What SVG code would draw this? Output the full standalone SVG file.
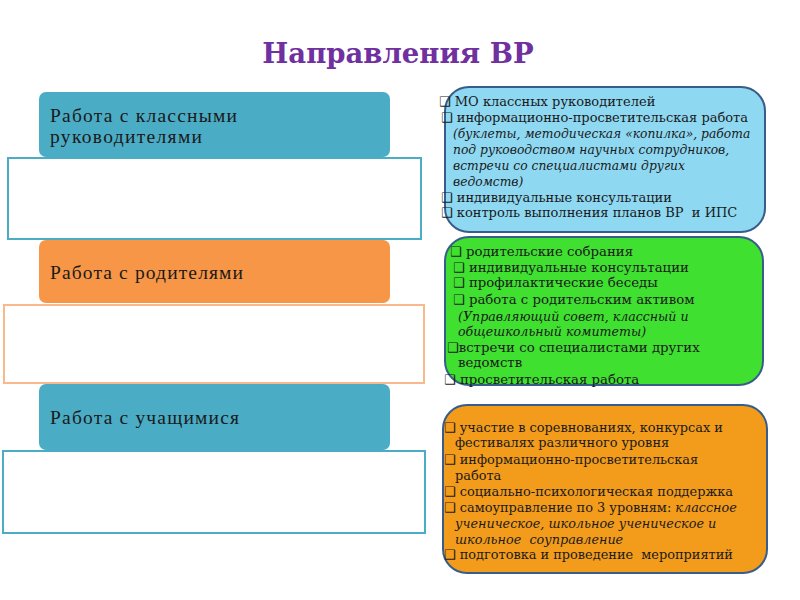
<svg xmlns="http://www.w3.org/2000/svg" width="800" height="600" viewBox="0 0 800 600">
<style>
.title{font-family:"DejaVu Serif","Liberation Serif",serif;font-weight:bold;font-size:27.5px;fill:#7030A0;text-anchor:middle}
.head{font-family:"Liberation Serif","Times New Roman",serif;font-size:19.5px;fill:#1a1a1a}
.hdr-teal{fill:#4BACC6}
.hdr-orange{fill:#F79646}
.frame-teal{fill:#fff;stroke:#4BACC6;stroke-width:2}
.frame-orange{fill:#fff;stroke:#F9B98A;stroke-width:2}
.panel{stroke:#385D8A;stroke-width:2}
.t{font-family:"DejaVu Serif","Liberation Serif",serif;font-size:13px;fill:#1a1a1a}
.g{font-size:13.3px}
.o{font-size:12.9px}
.i{font-style:italic;font-size:12.3px}
.gi{font-style:italic;font-size:12.6px}
.oi{font-style:italic;font-size:12.8px}
.b{font-family:"DejaVu Sans",sans-serif;font-size:13px;font-style:normal;fill:#1a1a1a}
</style>
<rect width="800" height="600" fill="#fff"/>
<text class="title" x="398" y="63">Направления ВР</text>

<g id="node-teachers">
  <rect class="frame-teal" x="8" y="158" width="413" height="81"/>
  <rect class="hdr-teal" x="39" y="92" width="351" height="65" rx="7"/>
  <text class="head" x="50" y="122" textLength="187" lengthAdjust="spacing">Работа с классными</text>
  <text class="head" x="50" y="143" textLength="152" lengthAdjust="spacing">руководителями</text>
</g>

<g id="node-parents">
  <rect class="frame-orange" x="4" y="305" width="420" height="78"/>
  <rect class="hdr-orange" x="39" y="240" width="351" height="63" rx="7"/>
  <text class="head" x="50" y="279" textLength="193" lengthAdjust="spacing">Работа с родителями</text>
</g>

<g id="node-students">
  <rect class="frame-teal" x="3" y="451" width="422" height="82"/>
  <rect class="hdr-teal" x="39" y="384" width="351" height="66" rx="7"/>
  <text class="head" x="50" y="424" textLength="189" lengthAdjust="spacing">Работа с учащимися</text>
</g>

<g id="panel-teachers">
  <rect class="panel" x="445" y="87" width="320" height="145" rx="24" fill="#8FD8F2"/>
  <text class="t" x="439" y="106"><tspan class="b">❑</tspan> МО классных руководителей</text>
  <text class="t" x="441" y="122"><tspan class="b">❑</tspan> информационно-просветительская работа</text>
  <text class="t i" x="453" y="138">(буклеты, методическая «копилка», работа</text>
  <text class="t i" x="453" y="154">под руководством научных сотрудников,</text>
  <text class="t i" x="453" y="170">встречи со специалистами других</text>
  <text class="t i" x="453" y="186">ведомств)</text>
  <text class="t" x="441" y="202"><tspan class="b">❑</tspan> индивидуальные консультации</text>
  <text class="t" x="441" y="217"><tspan class="b">❑</tspan> контроль выполнения планов ВР&#160; и ИПС</text>
</g>

<g id="panel-parents">
  <rect class="panel" x="445" y="237" width="318" height="148" rx="24" fill="#3FE030"/>
  <text class="t g" x="450" y="256"><tspan class="b">❑</tspan> родительские собрания</text>
  <text class="t g" x="453" y="272"><tspan class="b">❑</tspan> индивидуальные консультации</text>
  <text class="t g" x="453" y="287"><tspan class="b">❑</tspan> профилактические беседы</text>
  <text class="t g" x="453" y="304"><tspan class="b">❑</tspan> работа с родительским активом</text>
  <text class="t gi" x="458" y="321">(Управляющий совет, классный и</text>
  <text class="t gi" x="458" y="336">общешкольный комитеты)</text>
  <text class="t g" x="447" y="352"><tspan class="b">❑</tspan>встречи со специалистами других</text>
  <text class="t g" x="458" y="367">ведомств</text>
  <text class="t g" x="444" y="384"><tspan class="b">❑</tspan> просветительская работа</text>
</g>

<g id="panel-students">
  <rect class="panel" x="443" y="405" width="324" height="168" rx="24" fill="#F39C1C"/>
  <text class="t o" x="444" y="432"><tspan class="b">❑</tspan> участие в соревнованиях, конкурсах и</text>
  <text class="t o" x="455" y="447">фестивалях различного уровня</text>
  <text class="t o" x="444" y="464"><tspan class="b">❑</tspan> информационно-просветительская</text>
  <text class="t o" x="455" y="480">работа</text>
  <text class="t o" x="444" y="496"><tspan class="b">❑</tspan> социально-психологическая поддержка</text>
  <text class="t o" x="444" y="512"><tspan class="b">❑</tspan> самоуправление по 3 уровням: <tspan class="oi">классное</tspan></text>
  <text class="t oi" x="455" y="528">ученическое, школьное ученическое и</text>
  <text class="t oi" x="455" y="544">школьное&#160; соуправление</text>
  <text class="t o" x="444" y="559"><tspan class="b">❑</tspan> подготовка и проведение&#160; мероприятий</text>
</g>
</svg>
